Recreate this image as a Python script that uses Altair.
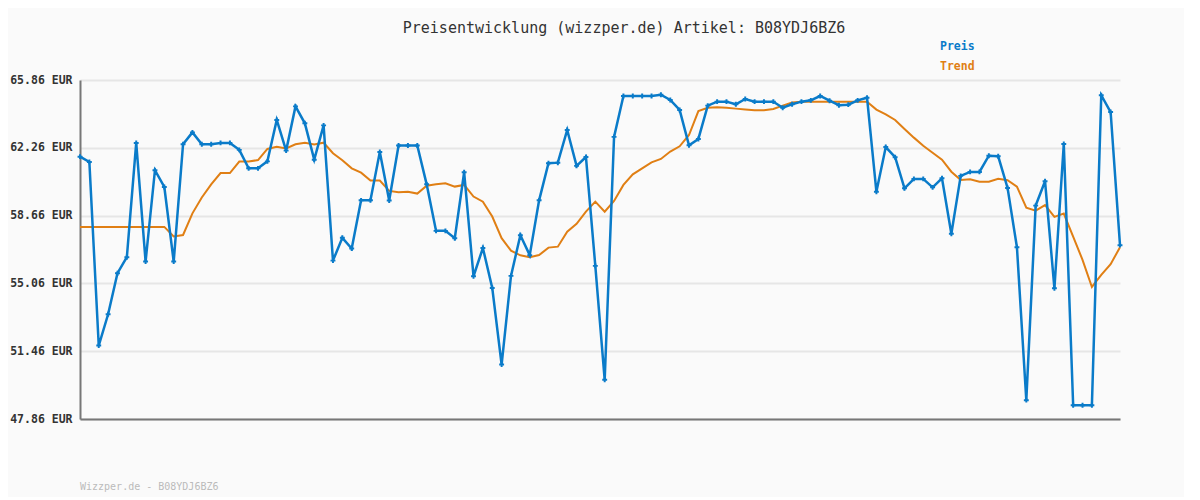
import altair as alt
import pandas as pd

TITLE = "Preisentwicklung (wizzper.de) Artikel: B08YDJ6BZ6"
FOOTER = "Wizzper.de - B08YDJ6BZ6"
SERIES = ["Preis", "Trend"]
COLORS = ["#0a7bc9", "#e07f14"]
Y_TICKS = [47.86, 51.46, 55.06, 58.66, 62.26, 65.86]

preis = [
    61.79, 61.51, 51.76, 53.42, 55.60, 56.45, 62.52, 56.22, 61.07, 60.18,
    56.22, 62.45, 63.08, 62.45, 62.45, 62.52, 62.52, 62.15, 61.17, 61.17,
    61.54, 63.74, 62.11, 64.46, 63.56, 61.63, 63.45, 56.27, 57.48, 56.91,
    59.47, 59.47, 62.04, 59.46, 62.38, 62.38, 62.38, 60.32, 57.85, 57.85,
    57.46, 60.96, 55.44, 56.94, 54.82, 50.75, 55.46, 57.62, 56.56, 59.47,
    61.44, 61.47, 63.21, 61.30, 61.77, 55.99, 49.94, 62.84, 65.01, 65.01,
    65.01, 65.01, 65.08, 64.80, 64.27, 62.39, 62.73, 64.50, 64.71, 64.71,
    64.57, 64.85, 64.71, 64.71, 64.71, 64.39, 64.57, 64.71, 64.78, 65.01,
    64.76, 64.52, 64.55, 64.78, 64.92, 59.93, 62.30, 61.76, 60.11, 60.61,
    60.61, 60.16, 60.64, 57.70, 60.77, 60.98, 60.98, 61.84, 61.81, 60.13,
    56.98, 48.86, 59.19, 60.48, 54.80, 62.46, 48.59, 48.59, 48.59, 65.05,
    64.16, 57.09,
]

trend = [
    58.06, 58.06, 58.06, 58.06, 58.06, 58.06, 58.06, 58.06, 58.06, 58.06,
    57.55, 57.63, 58.78, 59.62, 60.32, 60.92, 60.92, 61.53, 61.53, 61.61,
    62.20, 62.32, 62.23, 62.45, 62.53, 62.43, 62.53, 61.97, 61.60, 61.17,
    60.94, 60.52, 60.52, 59.97, 59.90, 59.93, 59.83, 60.25, 60.32, 60.38,
    60.20, 60.29, 59.67, 59.40, 58.61, 57.46, 56.80, 56.55, 56.45, 56.57,
    56.96, 57.01, 57.81, 58.22, 58.87, 59.40, 58.87, 59.44, 60.29, 60.85,
    61.17, 61.49, 61.67, 62.06, 62.34, 62.94, 64.21, 64.39, 64.41, 64.39,
    64.34, 64.30, 64.25, 64.25, 64.32, 64.50, 64.66, 64.71, 64.71, 64.71,
    64.71, 64.71, 64.71, 64.71, 64.71, 64.29, 64.04, 63.74, 63.26, 62.80,
    62.37, 62.00, 61.63, 60.99, 60.55, 60.59, 60.46, 60.46, 60.61, 60.54,
    60.20, 59.08, 58.92, 59.22, 58.59, 58.77, 57.55, 56.31, 54.87, 55.51,
    56.08, 56.98,
]

idx = list(range(len(preis)))
df = pd.DataFrame({"i": idx, "Preis": preis, "Trend": trend})

W, H = 1040, 339
MONO = "DejaVu Sans Mono"

x_enc = alt.X("i:Q", scale=alt.Scale(domain=[0, len(preis) - 1], nice=False, zero=False),
              axis=alt.Axis(labels=False, ticks=False, grid=False, title=None,
                            domainColor="#777777", domainWidth=2))
y_scale = alt.Scale(domain=[Y_TICKS[0], Y_TICKS[-1]], nice=False, zero=False)

base = alt.Chart(df)

trend_line = base.mark_line(color=COLORS[1], strokeWidth=2).encode(
    x=x_enc,
    y=alt.Y("Trend:Q", scale=y_scale,
            axis=alt.Axis(values=Y_TICKS, title=None, ticks=False,
                          labelExpr="format(datum.value, '.2f') + ' EUR'",
                          labelFont=MONO, labelFontSize=11.5, labelFontWeight="bold",
                          labelColor="#333333", labelPadding=8,
                          grid=True, gridColor="#e6e6e6", gridWidth=2,
                          domainColor="#777777", domainWidth=2)),
)

preis_line = base.mark_line(color=COLORS[0], strokeWidth=2.5).encode(
    x="i:Q", y=alt.Y("Preis:Q", scale=y_scale))
preis_pts = base.mark_point(color=COLORS[0], shape="cross", filled=True, size=24,
                            opacity=1).encode(x="i:Q", y=alt.Y("Preis:Q", scale=y_scale))

title_mark = alt.Chart(pd.DataFrame({"t": [TITLE]})).mark_text(
    font=MONO, fontSize=15, color="#333333", align="center", baseline="middle"
).encode(x=alt.value(544), y=alt.value(-52), text="t:N")

leg_df = pd.DataFrame({"s": SERIES, "c": COLORS, "yy": [-33, -13]})
legend_mark = alt.Chart(leg_df).mark_text(
    font=MONO, fontSize=11.5, fontWeight="bold", align="left", baseline="middle"
).encode(x=alt.value(860), y=alt.Y("yy:Q", scale=None), text="s:N",
         color=alt.Color("c:N", scale=None))

footer_mark = alt.Chart(pd.DataFrame({"t": [FOOTER]})).mark_text(
    font=MONO, fontSize=10, color="#bbbbbb", align="left", baseline="middle"
).encode(x=alt.value(0), y=alt.value(407), text="t:N")

chart = alt.layer(trend_line, preis_line, preis_pts, title_mark, legend_mark, footer_mark).properties(
    width=W, height=H,
    autosize=alt.AutoSizeParams(type="none"),
    padding={"left": 72, "top": 72, "right": 64, "bottom": 78},
    background="#fafafa",
).configure_view(stroke=None)

chart.save("out.html", embed_options={"renderer": "svg", "actions": False})
